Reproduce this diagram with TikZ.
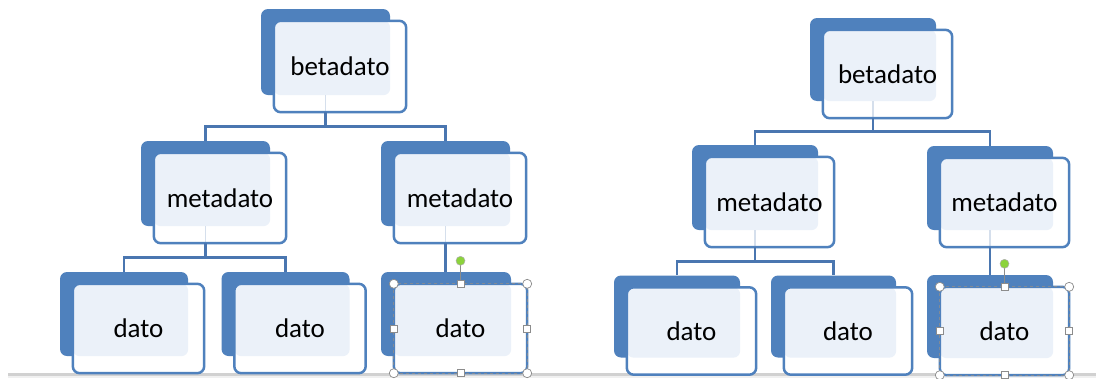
\documentclass[tikz,border=0pt]{standalone}
\usepackage{fontspec}
\setmainfont{Carlito}
\usetikzlibrary{calc,backgrounds}
\definecolor{dblue}{HTML}{4F81BD}
\definecolor{lfill}{HTML}{EBF1F9}
\definecolor{faint}{HTML}{D5DFEC}
\definecolor{cblue}{HTML}{4A76B0}
\definecolor{hgray}{HTML}{8C8C8C}
\definecolor{hgreen}{HTML}{8CD33C}
\tikzset{
  fbox/.style={rectangle, inner sep=0pt, font=\fontsize{27}{31}\selectfont},
  bbox/.style={rectangle, inner sep=0pt, fill=dblue, rounded corners=7pt},
  fborder/.style={draw=dblue, line width=2.5pt, rounded corners=7pt},
  conn/.style={draw=cblue, line width=2.5pt},
  handle/.style={draw=hgray, fill=white, line width=0.7pt},
  selframe/.style={draw=hgray!80!dblue, line width=0.8pt, dashed},
}
\newcommand\tbox[6]{%
  \node[fbox, minimum width=#4pt, minimum height=#5pt] (#1) at (#2,#3) {#6};
  \begin{scope}[on background layer]
    \node[bbox, minimum width=\fpeval{#4-3}pt, minimum height=\fpeval{#5-5}pt] (#1b) at ($(#1.center)+(-14.5,-14.5)$) {};
    \fill[white, rounded corners=7pt] (#1.north west) rectangle (#1.south east);
    \fill[lfill, rounded corners=7pt] (#1.north west) rectangle (#1b.south east);
  \end{scope}
  \draw[fborder] (#1.north west) rectangle (#1.south east);
}
\newcommand\faintline[1]{%
  \begin{scope}[on background layer]
    \draw[faint, line width=1.5pt] (#1b.south) -- (#1b.south |- #1.south);
  \end{scope}
}
\newcommand\selhandles[1]{%
  \draw[selframe] (#1.north west) rectangle (#1.south east);
  \coordinate (#1g) at ($(#1.north)+(0,-23)$);
  \draw[hgray, line width=0.7pt] (#1g) -- (#1.north);
  \fill[hgreen] (#1g) circle (4.5pt);
  \draw[hgray!70, line width=0.5pt] (#1g) circle (4.5pt);
  \foreach \a in {north west, north east, south west, south east}
    \draw[handle] (#1.\a) circle (4.5pt);
  \foreach \a in {north, south, east, west}
    \draw[handle] ($(#1.\a)+(-3.5,-3.5)$) rectangle ($(#1.\a)+(3.5,3.5)$);
}
\begin{document}
\begin{tikzpicture}[x=1pt, y=-1pt]
\useasboundingbox (0,0) rectangle (1096,378);
\begin{scope}[on background layer]
  \fill[white] (0,0) rectangle (1096,378);
  \fill[black!18] (8,373) rectangle (1096,375.5);
  \fill[black!6] (8,375.5) rectangle (1096,378);
\end{scope}
% left tree
\tbox{LB}{340}{66.5}{132}{91}{betadato}
\tbox{LMa}{220}{198}{132}{90}{metadato}
\tbox{LMb}{460}{198}{132}{90}{metadato}
\tbox{LDa}{138.5}{328.5}{131}{89}{dato}
\tbox{LDb}{300}{328.5}{131}{89}{dato}
\tbox{LDc}{460.5}{328.5}{133}{89}{dato}
% right tree
\tbox{RB}{887.5}{74}{129}{88}{betadato}
\tbox{RMa}{769.5}{202}{129}{90}{metadato}
\tbox{RMb}{1004.5}{202.5}{129}{89}{metadato}
\tbox{RDa}{691.5}{331}{129}{87}{dato}
\tbox{RDb}{848}{331}{128}{87}{dato}
\tbox{RDc}{1004.5}{331}{129}{88}{dato}
\faintline{LB}\faintline{LMa}\faintline{LMb}
\faintline{RB}\faintline{RMa}\faintline{RMb}
% connectors left
\coordinate (bus1) at ($(LB.south)!.5!(LMab.north)$);
\draw[conn] (LBb.south |- LB.south) |- (bus1) -| (LMab.north);
\draw[conn] (bus1) -| (LMbb.north);
\coordinate (bus2) at ($(LMa.south)!.5!(LDab.north)$);
\draw[conn] (LMab.south |- LMa.south) |- (bus2) -| (LDab.north);
\draw[conn] (bus2) -| (LDbb.north);
\draw[conn] (LMbb.south |- LMb.south) -- (LMbb.south |- LDcb.north);
% connectors right
\coordinate (bus3) at ($(RB.south)!.5!(RMab.north)$);
\draw[conn] (RBb.south |- RB.south) |- (bus3) -| (RMab.north);
\draw[conn] (bus3) -| (RMbb.north);
\coordinate (bus4) at ($(RMa.south)!.5!(RDab.north)$);
\draw[conn] (RMab.south |- RMa.south) |- (bus4) -| (RDab.north);
\draw[conn] (bus4) -| (RDbb.north);
\draw[conn] (RMbb.south |- RMb.south) -- (RMbb.south |- RDcb.north);
% selection handles
\selhandles{LDc}
\selhandles{RDc}
\end{tikzpicture}
\end{document}
